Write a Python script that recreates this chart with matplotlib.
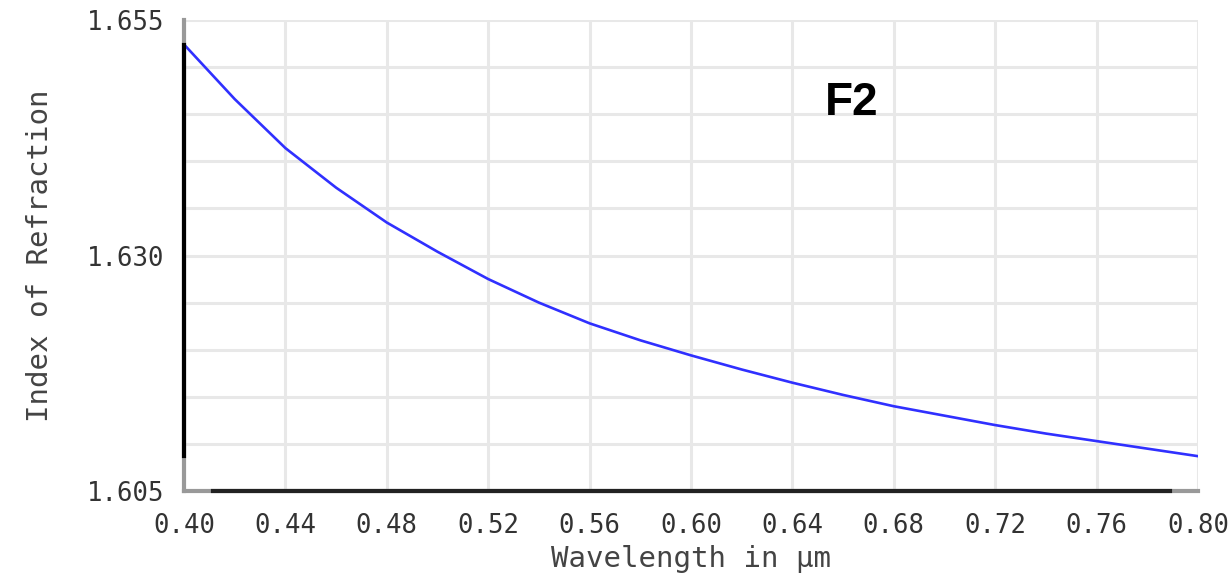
import numpy as np
import matplotlib
matplotlib.use("Agg")
import matplotlib.pyplot as plt

# refractive index of F2 glass
wavelength = [0.40, 0.42, 0.44, 0.46, 0.48, 0.50, 0.52, 0.54, 0.56, 0.58,
              0.60, 0.62, 0.64, 0.66, 0.68, 0.70, 0.72, 0.74, 0.76, 0.78, 0.80]
index = [1.6524, 1.6466, 1.6414, 1.6372, 1.6335, 1.6304, 1.6275, 1.6250,
         1.6228, 1.6210, 1.6194, 1.6179, 1.6165, 1.6152, 1.6140, 1.6130,
         1.6120, 1.6111, 1.6103, 1.6095, 1.6087]

x_ticks = [0.40, 0.44, 0.48, 0.52, 0.56, 0.60, 0.64, 0.68, 0.72, 0.76, 0.80]
y_ticks = [1.605, 1.630, 1.655]
y_grid = [1.605, 1.610, 1.615, 1.620, 1.625, 1.630, 1.635, 1.640, 1.645, 1.650, 1.655]
x_dark = (0.4115, 0.789)  # dark part of the bottom axis line

fig = plt.figure(figsize=(12.32, 5.77), dpi=100)
ax = fig.add_axes([0.1494, 0.149, 0.823, 0.8163])

ax.set_xlim(0.40, 0.80)
ax.set_ylim(1.605, 1.655)

# grid
for gx in x_ticks:
    ax.axvline(gx, color="#e8e8e8", lw=2.2, zorder=0)
for gy in y_grid:
    ax.axhline(gy, color="#e8e8e8", lw=2.2, zorder=0)

ax.plot(wavelength, index, color="#3030ff", lw=1.9, zorder=3,
        solid_joinstyle="round")

# axis lines: grey full length, black over data span
for s in ["top", "right", "left", "bottom"]:
    ax.spines[s].set_visible(False)
ax.plot([0.40, 0.40], [1.605, 1.655], color="#999999", lw=3, clip_on=False, zorder=4)
ax.plot([0.40, 0.80], [1.605, 1.605], color="#999999", lw=3, clip_on=False, zorder=4)
ax.plot([0.40, 0.40], [min(index), max(index)], color="black", lw=3, clip_on=False, zorder=5)
ax.plot(list(x_dark), [1.605, 1.605], color="#222222", lw=3, clip_on=False, zorder=5)

ax.set_xticks(x_ticks)
ax.set_xticklabels([f"{v:.2f}" for v in x_ticks])
ax.set_yticks(y_ticks)
ax.set_yticklabels([f"{v:.3f}" for v in y_ticks])
ax.tick_params(length=0, labelsize=18.5, labelcolor="#333333")
ax.tick_params(axis="x", pad=16)
ax.tick_params(axis="y", pad=14)
for lab in ax.get_xticklabels() + ax.get_yticklabels():
    lab.set_fontfamily("DejaVu Sans Mono")

ax.set_xlabel("Wavelength in µm", fontsize=21, family="DejaVu Sans Mono",
              color="#444444", labelpad=4)
ax.set_ylabel("Index of Refraction", fontsize=21, family="DejaVu Sans Mono",
              color="#444444", labelpad=24)

ax.text(0.6635, 1.6462, "F2", fontsize=33, fontweight="bold",
        family="Liberation Sans", ha="center", va="center", color="black")

fig.savefig("out.png", dpi=100)
